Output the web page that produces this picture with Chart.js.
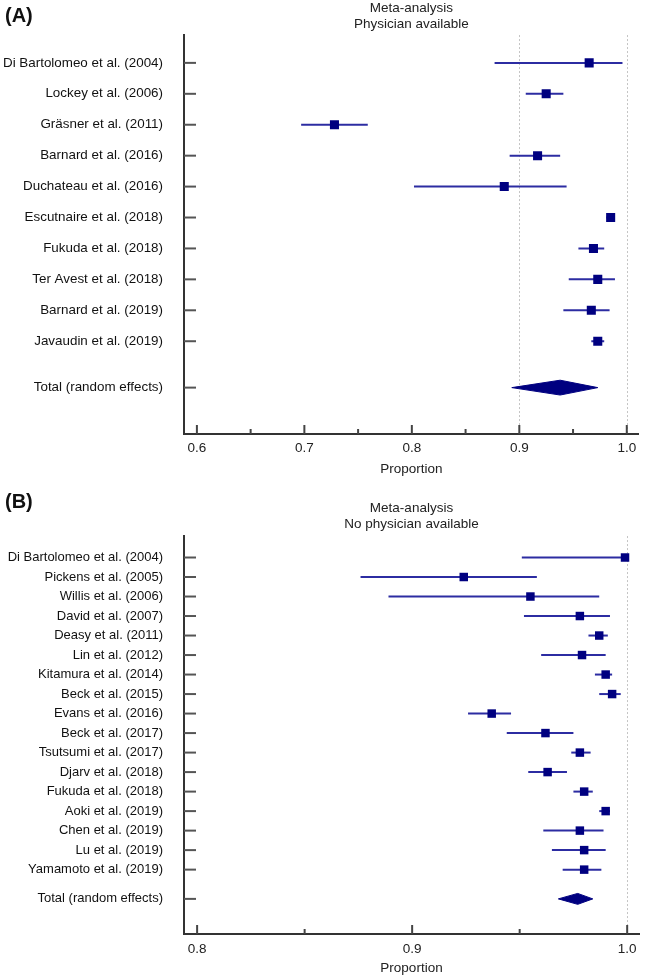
<!DOCTYPE html>
<html>
<head>
<meta charset="utf-8">
<script src="https://cdn.jsdelivr.net/npm/chart.js@4"></script>
<style>
  body { margin: 0; background: #fff; width: 645px; height: 977px; position: relative; overflow: hidden;
         font-family: "Liberation Sans", Arial, sans-serif; }
  canvas { position: absolute; left: 0; }
  .panel { position: absolute; left: 5px; font-weight: bold; font-size: 20px; color: #111; z-index: 2; }
</style>
</head>
<body>
<canvas id="chartA" width="645" height="480" style="top:0"></canvas>
<canvas id="chartB" width="645" height="497" style="top:480px"></canvas>
<div class="panel" style="top:4px">(A)</div>
<div class="panel" style="top:490px">(B)</div>
<script>
// (A) physician available
const labelsA = [
  'Di Bartolomeo et al. (2004)', 'Lockey et al. (2006)', 'Gräsner et al. (2011)',
  'Barnard et al. (2016)', 'Duchateau et al. (2016)', 'Escutnaire et al. (2018)',
  'Fukuda et al. (2018)', 'Ter Avest et al. (2018)', 'Barnard et al. (2019)',
  'Javaudin et al. (2019)'
];
const estA  = [0.965, 0.925, 0.728, 0.917, 0.886, 0.985, 0.969, 0.973, 0.967, 0.973];
const lowA  = [0.877, 0.906, 0.697, 0.891, 0.802, 0.981, 0.955, 0.946, 0.941, 0.967];
const highA = [0.996, 0.941, 0.759, 0.938, 0.944, 0.989, 0.979, 0.989, 0.984, 0.979];
const pooledA = [0.938, 0.893, 0.973]; // estimate, lower, upper
const xTicksA  = [0.6, 0.65, 0.7, 0.75, 0.8, 0.85, 0.9, 0.95, 1.0];
const xLabelsA = ['0.6', '', '0.7', '', '0.8', '', '0.9', '', '1.0'];

// (B) no physician available
const labelsB = [
  'Di Bartolomeo et al. (2004)', 'Pickens et al. (2005)', 'Willis et al. (2006)',
  'David et al. (2007)', 'Deasy et al. (2011)', 'Lin et al. (2012)',
  'Kitamura et al. (2014)', 'Beck et al. (2015)', 'Evans et al. (2016)',
  'Beck et al. (2017)', 'Tsutsumi et al. (2017)', 'Djarv et al. (2018)',
  'Fukuda et al. (2018)', 'Aoki et al. (2019)', 'Chen et al. (2019)',
  'Lu et al. (2019)', 'Yamamoto et al. (2019)'
];
const estB  = [0.999, 0.924, 0.955, 0.978, 0.987, 0.979, 0.990, 0.993, 0.937, 0.962, 0.978, 0.963, 0.980, 0.990, 0.978, 0.980, 0.980];
const lowB  = [0.951, 0.876, 0.889, 0.952, 0.982, 0.960, 0.985, 0.987, 0.926, 0.944, 0.974, 0.954, 0.975, 0.987, 0.961, 0.965, 0.970];
const highB = [1.000, 0.958, 0.987, 0.992, 0.991, 0.990, 0.993, 0.997, 0.946, 0.975, 0.983, 0.972, 0.984, 0.992, 0.989, 0.990, 0.988];
const pooledB = [0.977, 0.968, 0.984];
const xTicksB  = [0.8, 0.85, 0.9, 0.95, 1.0];
const xLabelsB = ['0.8', '', '0.9', '', '1.0'];

const totalLabel = 'Total (random effects)';
const NAVY = '#000080';
const CI_BLUE = '#2c2ca2';
const FONT = '"Liberation Sans", Arial, sans-serif';

Chart.defaults.font.family = FONT;
Chart.defaults.color = '#222';

// dotted reference lines
const refLines = {
  id: 'refLines',
  beforeDatasetsDraw(chart, args, opts) {
    const {ctx, chartArea: a, scales: {x}} = chart;
    ctx.save();
    ctx.strokeStyle = '#c4c4c4';
    ctx.lineWidth = 1;
    ctx.setLineDash([2, 2]);
    (opts.values || []).forEach(v => {
      const px = Math.round(x.getPixelForValue(v)) + 0.5;
      ctx.beginPath();
      ctx.moveTo(px, a.top);
      ctx.lineTo(px, a.bottom);
      ctx.stroke();
    });
    ctx.restore();
  }
};

// tick marks pointing into the plot
const innerTicks = {
  id: 'innerTicks',
  afterDraw(chart) {
    const {ctx, chartArea: a, scales: {x, y}} = chart;
    ctx.save();
    ctx.strokeStyle = '#444';
    ctx.lineWidth = 2;
    x.ticks.forEach(t => {
      const px = x.getPixelForValue(t.value);
      const len = t.label ? 9 : 5;
      ctx.beginPath();
      ctx.moveTo(px, a.bottom);
      ctx.lineTo(px, a.bottom - len);
      ctx.stroke();
    });
    ctx.strokeStyle = '#555';
    y.ticks.forEach(t => {
      const py = y.getPixelForValue(t.value);
      ctx.beginPath();
      ctx.moveTo(a.left, py);
      ctx.lineTo(a.left + 12, py);
      ctx.stroke();
    });
    ctx.restore();
  }
};

function forest(id, c) {
  const n = c.labels.length;
  const rows = c.labels.map((_, i) => i + 1);
  const totalY = n + 1.5;
  const yPos = rows.concat([totalY]);
  const yLabels = c.labels.concat([totalLabel]);

  const datasets = [];
  datasets.push({
    data: c.est.map((v, i) => ({x: v, y: rows[i]})),
    pointStyle: 'rect', pointRadius: c.sq, pointBackgroundColor: NAVY,
    pointBorderWidth: 0, order: 0
  });
  const [pe, pl, ph] = c.pooled;
  const h = c.dh;
  datasets.push({
    data: [{x: pl, y: totalY}, {x: pe, y: totalY - h}, {x: ph, y: totalY}, {x: pe, y: totalY + h}, {x: pl, y: totalY}],
    showLine: true, fill: 'shape', backgroundColor: NAVY, borderColor: NAVY,
    borderWidth: 1, pointRadius: 0, tension: 0, order: 0
  });
  c.low.forEach((v, i) => {
    datasets.push({
      data: [{x: v, y: rows[i]}, {x: c.high[i], y: rows[i]}],
      showLine: true, borderColor: CI_BLUE, borderWidth: 2, pointRadius: 0, order: 1
    });
  });

  return new Chart(document.getElementById(id), {
    type: 'scatter',
    data: {datasets},
    plugins: [refLines, innerTicks],
    options: {
      responsive: false,
      animation: false,
      devicePixelRatio: 1,
      events: [],
      layout: {padding: {left: 0, right: 3, top: 0, bottom: 0}},
      plugins: {
        legend: {display: false},
        tooltip: {enabled: false},
        refLines: {values: c.refs},
        title: {
          display: true,
          text: ['Meta-analysis', c.subtitle],
          fullSize: false,
          color: '#222',
          font: {size: 13.5, weight: 'normal', lineHeight: 1.15},
          padding: {top: c.titleTop, bottom: c.titleBottom}
        }
      },
      scales: {
        x: {
          type: 'linear', position: 'bottom', min: c.xMin, max: c.xMax,
          afterBuildTicks: s => { s.ticks = c.xTicks.map(v => ({value: v})); },
          afterFit: s => { s.height = c.xAxisH; },
          grid: {display: false, drawTicks: false},
          border: {color: '#333', width: 2},
          ticks: {
            autoSkip: false, maxRotation: 0, padding: c.xPad, color: '#222',
            font: {size: 13.5},
            callback: (v, i) => c.xLabels[i]
          },
          title: {
            display: true, text: 'Proportion', color: '#222',
            font: {size: 13.5}, padding: {top: 0, bottom: c.xTitleBottom}
          }
        },
        y: {
          type: 'linear', reverse: true, min: c.yMin, max: c.yMax,
          afterBuildTicks: s => { s.ticks = yPos.map(v => ({value: v})); },
          afterFit: s => { s.width = 184; },
          grid: {display: false, drawTicks: false},
          border: {color: '#333', width: 2},
          ticks: {
            autoSkip: false, padding: 21, color: '#111',
            font: {size: c.yFont},
            callback: (v, i) => yLabels[i]
          }
        }
      }
    }
  });
}

forest('chartA', {
  labels: labelsA, est: estA, low: lowA, high: highA, pooled: pooledA,
  xTicks: xTicksA, xLabels: xLabelsA, xMin: 0.588, xMax: 1.011,
  yMin: 0.1, yMax: 13, refs: [0.9, 1.0], subtitle: 'Physician available',
  titleTop: 1, titleBottom: 3, xAxisH: 46, xPad: 6, xTitleBottom: 3,
  sq: 6.4, dh: 0.24, yFont: 13.4
});

forest('chartB', {
  labels: labelsB, est: estB, low: lowB, high: highB, pooled: pooledB,
  xTicks: xTicksB, xLabels: xLabelsB, xMin: 0.7939, xMax: 1.0055,
  yMin: -0.1, yMax: 20.3, refs: [1.0], subtitle: 'No physician available',
  titleTop: 21, titleBottom: 4, xAxisH: 43, xPad: 7, xTitleBottom: 1,
  sq: 6.0, dh: 0.28, yFont: 13
});
</script>
</body>
</html>
